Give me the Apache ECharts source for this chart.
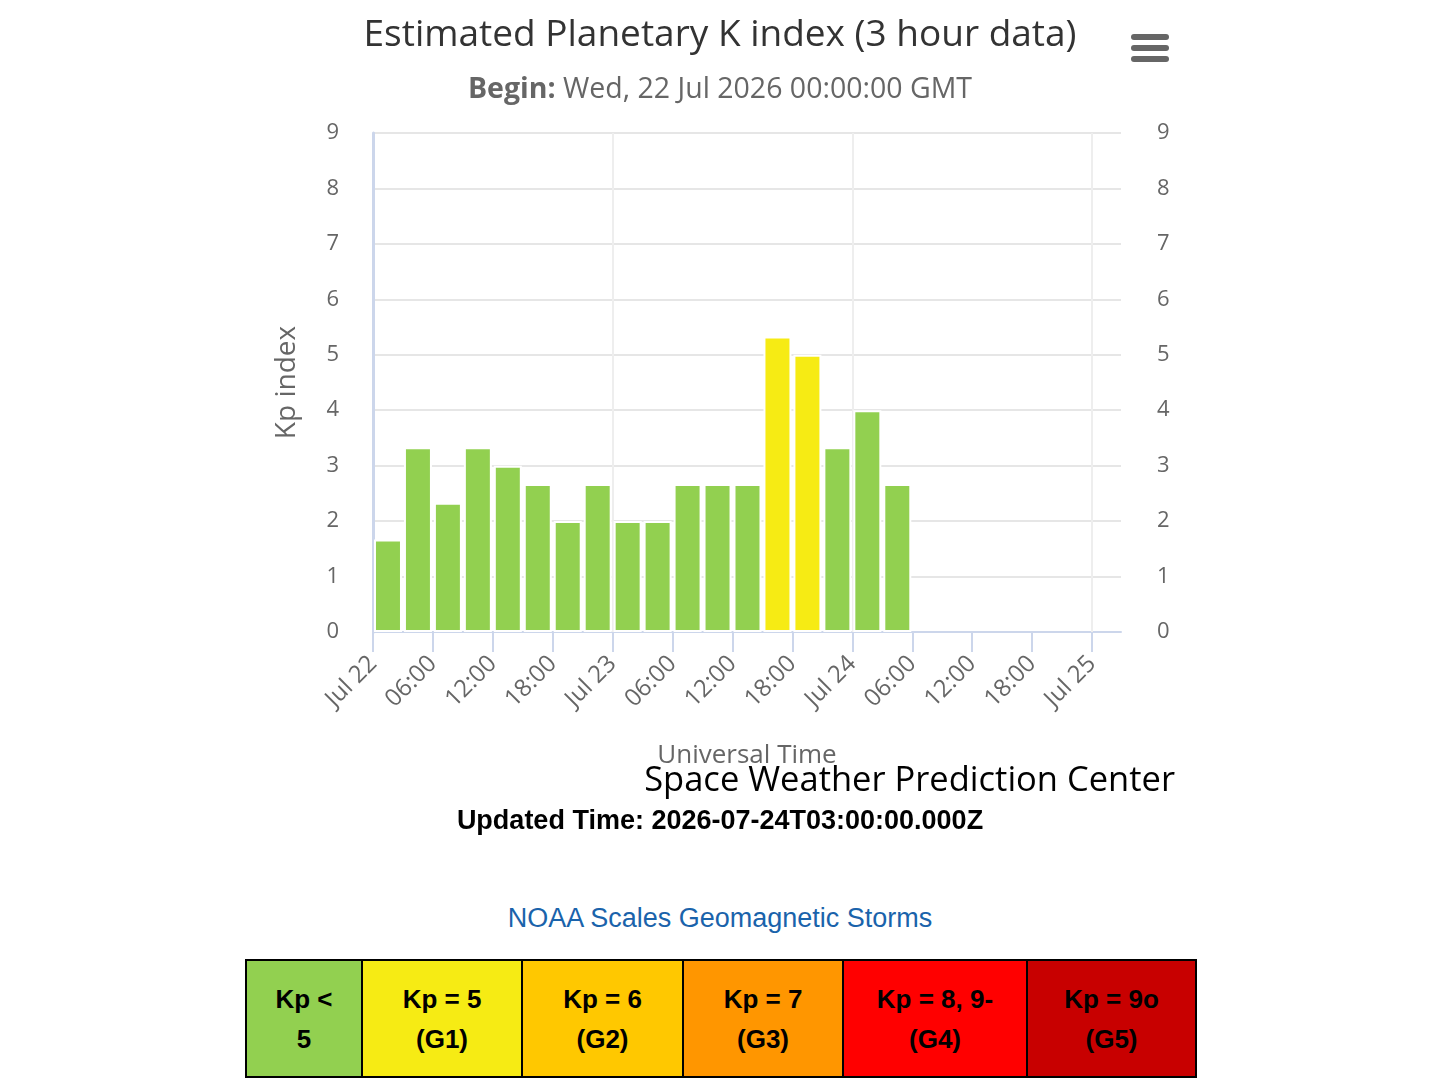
<!DOCTYPE html>
<html>
<head>
<meta charset="utf-8">
<script src="https://cdn.jsdelivr.net/npm/echarts@6/dist/echarts.min.js"></script>
<style>
  html, body { margin: 0; padding: 0; background: #fff; }
  #page { position: relative; width: 1440px; height: 1080px; overflow: hidden; }
  #kpChart { position: absolute; left: 0; top: 0; width: 1440px; height: 860px; }
  #updated { position: absolute; left: 0; width: 1440px; top: 805px; text-align: center;
    font-family: "Liberation Sans", Arial, sans-serif; font-weight: bold; font-size: 27px; color: #000; }
  #noaa { position: absolute; left: 0; width: 1440px; top: 903px; text-align: center;
    font-family: "Liberation Sans", Arial, sans-serif; font-size: 27px; color: #1a63ab; }
  #scales { position: absolute; left: 245px; top: 959px; table-layout: fixed; border-collapse: collapse;
    font-family: "Liberation Sans", Arial, sans-serif; font-weight: bold; font-size: 26px; color: #000; }
  #scales td { border: 2px solid #000; text-align: center; vertical-align: middle;
    height: 115px; line-height: 40px; padding: 0; }
</style>
</head>
<body>
<div id="page">
  <div id="kpChart"></div>
  <div id="updated"></div>
  <div id="noaa">NOAA Scales Geomagnetic Storms</div>
  <table id="scales"><tr id="scaleRow"></tr></table>
</div>
<script>
// 3 hour slots (start time, UTC) and estimated Kp
var slotStarts = [
  '2026-07-22T00:00:00Z', '2026-07-22T03:00:00Z', '2026-07-22T06:00:00Z',
  '2026-07-22T09:00:00Z', '2026-07-22T12:00:00Z', '2026-07-22T15:00:00Z',
  '2026-07-22T18:00:00Z', '2026-07-22T21:00:00Z', '2026-07-23T00:00:00Z',
  '2026-07-23T03:00:00Z', '2026-07-23T06:00:00Z', '2026-07-23T09:00:00Z',
  '2026-07-23T12:00:00Z', '2026-07-23T15:00:00Z', '2026-07-23T18:00:00Z',
  '2026-07-23T21:00:00Z', '2026-07-24T00:00:00Z', '2026-07-24T03:00:00Z'
]
var kpValues = [1.67, 3.33, 2.33, 3.33, 3.00, 2.67, 2.00, 2.67, 2.00,
  2.00, 2.67, 2.67, 2.67, 5.33, 5.00, 3.33, 4.00, 2.67]

var dayLabels = ['Jul 22', 'Jul 23', 'Jul 24', 'Jul 25']
var hourTicks = [0, 6, 12, 18, 24, 30, 36, 42, 48, 54, 60, 66, 72]
var dayTicks = [24, 48, 72]

// NOAA storm scale
var scaleLabels = ['Kp <<br>5', 'Kp = 5<br>(G1)', 'Kp = 6<br>(G2)', 'Kp = 7<br>(G3)', 'Kp = 8, 9-<br>(G4)', 'Kp = 9o<br>(G5)']
var scaleColors = ['#92D050', '#F6EB14', '#FFC800', '#FF9600', '#FF0000', '#C80000']
var scaleWidths = [114, 158, 159, 158, 182, 167]

var beginText = 'Wed, 22 Jul 2026 00:00:00 GMT'
var updatedText = '2026-07-24T03:00:00.000Z'

var startMs = Date.parse(slotStarts[0])

function kpColor (v) {
  if (v < 5) return scaleColors[0]
  if (v < 6) return scaleColors[1]
  if (v < 7) return scaleColors[2]
  if (v < 8) return scaleColors[3]
  if (v < 9) return scaleColors[4]
  return scaleColors[5]
}

var barData = slotStarts.map(function (t, i) {
  var h = (Date.parse(t) - startMs) / 3600000 + 1.5 // bar centred in its 3h slot
  return { value: [h, kpValues[i]], itemStyle: { color: kpColor(kpValues[i]) } }
})

var font = '"Open Sans", "DejaVu Sans", sans-serif'

var myChart = echarts.init(document.getElementById('kpChart'))
myChart.setOption({
  animation: false,
  textStyle: { fontFamily: font },
  title: [{
    text: 'Estimated Planetary K index (3 hour data)',
    left: 'center',
    top: 12,
    textStyle: { fontSize: 37, fontWeight: 'normal', color: '#333', fontFamily: font }
  }, {
    text: '{b|Begin:} ' + beginText,
    left: 'center',
    top: 70,
    textStyle: {
      fontSize: 28.5, fontWeight: 'normal', color: '#666', fontFamily: font,
      rich: { b: { fontSize: 28.5, fontWeight: 'bold', color: '#666', fontFamily: font } }
    }
  }],
  grid: { left: 373, right: 319, top: 133, height: 499, containLabel: false },
  xAxis: {
    type: 'value',
    min: 0,
    max: 74.9,
    name: 'Universal Time',
    nameLocation: 'middle',
    nameGap: 111,
    nameTextStyle: { fontSize: 26, color: '#666' },
    axisLine: { show: true, onZero: false, lineStyle: { color: '#ccd6eb', width: 2 } },
    axisTick: { show: true, length: 20, customValues: hourTicks, lineStyle: { color: '#ccd6eb', width: 2 } },
    axisLabel: {
      customValues: hourTicks,
      rotate: 45,
      margin: 28,
      fontSize: 24,
      color: '#666',
      formatter: function (h) {
        if (h % 24 === 0) return dayLabels[h / 24]
        var hh = h % 24
        return (hh < 10 ? '0' : '') + hh + ':00'
      }
    },
    splitLine: { show: false }
  },
  yAxis: [{
    type: 'value',
    min: 0,
    max: 9,
    interval: 1,
    name: 'Kp index',
    nameLocation: 'middle',
    nameGap: 72,
    nameRotate: 90,
    nameTextStyle: { fontSize: 28, color: '#666' },
    axisLine: { show: true, lineStyle: { color: '#ccd6eb', width: 3 } },
    axisTick: { show: false },
    axisLabel: { fontSize: 22, color: '#666', margin: 34 },
    splitLine: { lineStyle: { color: '#e6e6e6', width: 2 } }
  }, {
    type: 'value',
    min: 0,
    max: 9,
    interval: 1,
    position: 'right',
    axisLine: { show: false },
    axisTick: { show: false },
    axisLabel: { fontSize: 22, color: '#666', margin: 36 },
    splitLine: { show: false }
  }],
  series: [{
    name: 'Kp',
    type: 'bar',
    barWidth: 28,
    itemStyle: { borderColor: '#fff', borderWidth: 2 },
    data: barData,
    z: 3,
    markLine: {
      silent: true,
      symbol: 'none',
      label: { show: false },
      lineStyle: { color: '#eeeeee', width: 2, type: 'solid' },
      z: 1,
      data: dayTicks.map(function (h) { return { xAxis: h } })
    }
  }],
  graphic: [{
    type: 'group',
    left: 1131,
    top: 34,
    children: [0, 11, 22].map(function (y) {
      return { type: 'rect', shape: { x: 0, y: y, width: 38, height: 6, r: 3 }, style: { fill: '#666' } }
    })
  }, {
    type: 'text',
    right: 265,
    top: 764,
    style: { text: 'Space Weather Prediction Center', fontSize: 34.5, fill: '#000', fontFamily: font }
  }]
})

document.getElementById('updated').textContent = 'Updated Time: ' + updatedText

var row = document.getElementById('scaleRow')
scaleLabels.forEach(function (lbl, i) {
  var td = document.createElement('td')
  td.innerHTML = lbl
  td.style.background = scaleColors[i]
  td.style.width = scaleWidths[i] + 'px'
  row.appendChild(td)
})

window.addEventListener('resize', function () {
  myChart.resize()
})
</script>
</body>
</html>
